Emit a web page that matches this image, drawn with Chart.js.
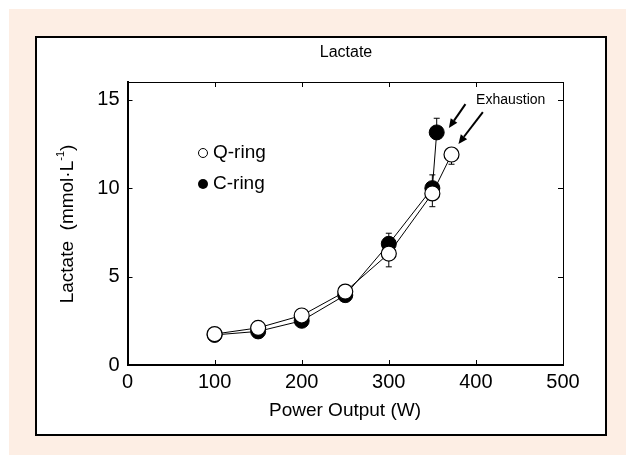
<!DOCTYPE html>
<html>
<head>
<meta charset="utf-8">
<script src="https://cdn.jsdelivr.net/npm/chart.js@4.4.1/dist/chart.umd.min.js"></script>
<style>
  html, body { margin: 0; padding: 0; background: #fff; }
  #wrap { width: 626px; height: 455px; position: relative; }
</style>
</head>
<body>
<div id="wrap"><canvas id="lactate-chart" width="626" height="455"></canvas></div>
<script>
const FONT = '"Liberation Sans", Arial, sans-serif';
const PEACH = '#FDEEE4';

// power output (W) and lactate (mmol/L)
const powerQ = [100, 150, 200, 250, 300, 350, 372];
const lactateQ = [1.75, 2.1, 2.8, 4.15, 6.3, 9.7, 11.9];
const sdQ = [0.1, 0.1, 0.15, 0.2, 0.75, 0.75, 0.55];

const powerC = [100, 150, 200, 250, 300, 350, 355];
const lactateC = [1.7, 1.9, 2.5, 3.95, 6.85, 10.0, 13.15];
const sdC = [0.1, 0.1, 0.15, 0.2, 0.6, 0.75, 0.8];

const xTicks = [0, 100, 200, 300, 400, 500];
const yTicks = [0, 5, 10, 15];

const toPoints = (xs, ys) => xs.map((x, i) => ({ x, y: ys[i] }));

const frame = {
    id: 'frame',
    beforeDraw(chart) {
        const { ctx, width, height } = chart;
        ctx.save();
        ctx.fillStyle = '#fff';
        ctx.fillRect(0, 0, width, height);
        ctx.fillStyle = PEACH;
        ctx.fillRect(9, 9, width - 9, height - 9);
        ctx.fillStyle = '#fff';
        ctx.fillRect(36, 37, 570, 398);
        ctx.strokeStyle = '#000';
        ctx.lineWidth = 2;
        ctx.strokeRect(36, 37, 570, 398);

        ctx.fillStyle = '#000';
        ctx.textAlign = 'center';
        ctx.textBaseline = 'middle';
        ctx.font = '16px ' + FONT;
        ctx.fillText('Lactate', 346, 53);
        ctx.font = '19px ' + FONT;
        ctx.fillText('Power Output (W)', 345, 411);

        // y axis title with superscript
        ctx.translate(68, 224);
        ctx.rotate(-Math.PI / 2);
        const main = 'Lactate  (mmol\u00b7L';
        const sup = '-1';
        ctx.font = '19px ' + FONT;
        const w1 = ctx.measureText(main).width;
        const w3 = ctx.measureText(')').width;
        ctx.font = '11px ' + FONT;
        const w2 = ctx.measureText(sup).width;
        const x0 = -(w1 + w2 + w3) / 2;
        ctx.textAlign = 'left';
        ctx.font = '19px ' + FONT;
        ctx.fillText(main, x0, 0);
        ctx.font = '11px ' + FONT;
        ctx.fillText(sup, x0 + w1, -7);
        ctx.font = '19px ' + FONT;
        ctx.fillText(')', x0 + w1 + w2, 0);
        ctx.restore();
    },
    beforeDatasetsDraw(chart) {
        const { ctx, chartArea: a, scales: { x, y } } = chart;
        ctx.save();
        // thin top/right frame + inward ticks
        ctx.strokeStyle = '#000';
        ctx.lineWidth = 1;
        ctx.beginPath();
        ctx.moveTo(a.left, a.top + 0.5);
        ctx.lineTo(a.right + 0.5, a.top + 0.5);
        ctx.lineTo(a.right + 0.5, a.bottom);
        xTicks.forEach((v) => {
            const px = Math.round(x.getPixelForValue(v)) + 0.5;
            ctx.moveTo(px, a.bottom);
            ctx.lineTo(px, a.bottom - 5);
            ctx.moveTo(px, a.top);
            ctx.lineTo(px, a.top + 5);
        });
        yTicks.forEach((v) => {
            const py = Math.round(y.getPixelForValue(v)) + 0.5;
            ctx.moveTo(a.left, py);
            ctx.lineTo(a.left + 5, py);
            ctx.moveTo(a.right, py);
            ctx.lineTo(a.right - 5, py);
        });
        ctx.stroke();

        // error bars
        const bars = (xs, ys, sd, dir) => {
            xs.forEach((xv, i) => {
                const px = x.getPixelForValue(xv);
                const p0 = y.getPixelForValue(ys[i]);
                const p1 = y.getPixelForValue(ys[i] + dir * sd[i]);
                ctx.beginPath();
                ctx.moveTo(px, p0);
                ctx.lineTo(px, p1);
                ctx.moveTo(px - 3, p1);
                ctx.lineTo(px + 3, p1);
                ctx.stroke();
            });
        };
        bars(powerC, lactateC, sdC, 1);
        bars(powerQ, lactateQ, sdQ, -1);
        ctx.restore();
    },
    afterDatasetsDraw(chart) {
        const { ctx, scales: { x, y } } = chart;
        ctx.save();
        ctx.fillStyle = '#000';
        ctx.strokeStyle = '#000';

        // legend
        ctx.font = '19px ' + FONT;
        ctx.textAlign = 'left';
        ctx.textBaseline = 'middle';
        ctx.lineWidth = 1;
        ctx.beginPath();
        ctx.arc(203, 153, 4.5, 0, Math.PI * 2);
        ctx.stroke();
        ctx.fillText('Q-ring', 213, 153);
        ctx.beginPath();
        ctx.arc(203, 184, 5, 0, Math.PI * 2);
        ctx.fill();
        ctx.fillText('C-ring', 213, 184);

        // exhaustion note
        ctx.font = '14px ' + FONT;
        ctx.textAlign = 'center';
        ctx.fillText('Exhaustion', x.getPixelForValue(440), y.getPixelForValue(14.95));
        const arrow = (x1, y1, x2, y2) => {
            const sx = x.getPixelForValue(x1), sy = y.getPixelForValue(y1);
            const ex = x.getPixelForValue(x2), ey = y.getPixelForValue(y2);
            const ang = Math.atan2(ey - sy, ex - sx);
            const hl = 9, hw = 4;
            const bx = ex - hl * Math.cos(ang), by = ey - hl * Math.sin(ang);
            ctx.lineWidth = 2;
            ctx.beginPath();
            ctx.moveTo(sx, sy);
            ctx.lineTo(bx, by);
            ctx.stroke();
            ctx.beginPath();
            ctx.moveTo(ex, ey);
            ctx.lineTo(bx + hw * Math.sin(ang), by - hw * Math.cos(ang));
            ctx.lineTo(bx - hw * Math.sin(ang), by + hw * Math.cos(ang));
            ctx.closePath();
            ctx.fill();
        };
        arrow(388, 14.75, 369, 13.4);
        arrow(408, 14.3, 380, 12.5);
        ctx.restore();
    },
};

new Chart(document.getElementById('lactate-chart'), {
    type: 'scatter',
    data: {
        datasets: [
            {
                label: 'Q-ring',
                data: toPoints(powerQ, lactateQ),
                showLine: true,
                borderColor: '#000',
                borderWidth: 1,
                pointRadius: 7.5,
                pointBackgroundColor: '#fff',
                pointBorderColor: '#000',
                pointBorderWidth: 1.2,
            },
            {
                label: 'C-ring',
                data: toPoints(powerC, lactateC),
                showLine: true,
                borderColor: '#000',
                borderWidth: 1,
                pointRadius: 7.5,
                pointBackgroundColor: '#000',
                pointBorderColor: '#000',
                pointBorderWidth: 1,
            },
        ],
    },
    options: {
        responsive: false,
        animation: false,
        events: [],
        layout: { padding: { left: 0, right: 63, top: 82, bottom: 0 } },
        plugins: { legend: { display: false }, tooltip: { enabled: false } },
        scales: {
            x: {
                type: 'linear',
                min: 0,
                max: 500,
                afterFit: (s) => { s.height = 90; },
                afterBuildTicks: (s) => { s.ticks = xTicks.map((v) => ({ value: v })); },
                grid: { display: false, drawTicks: false },
                border: { display: true, color: '#000', width: 2 },
                ticks: { color: '#000', font: { family: FONT, size: 20 }, padding: 5 },
            },
            y: {
                type: 'linear',
                min: 0,
                max: 16,
                afterFit: (s) => { s.width = 127.5; },
                afterBuildTicks: (s) => { s.ticks = yTicks.map((v) => ({ value: v })); },
                grid: { display: false, drawTicks: false },
                border: { display: true, color: '#000', width: 2 },
                ticks: { color: '#000', font: { family: FONT, size: 20 }, padding: 8 },
            },
        },
    },
    plugins: [frame],
});
</script>
</body>
</html>
